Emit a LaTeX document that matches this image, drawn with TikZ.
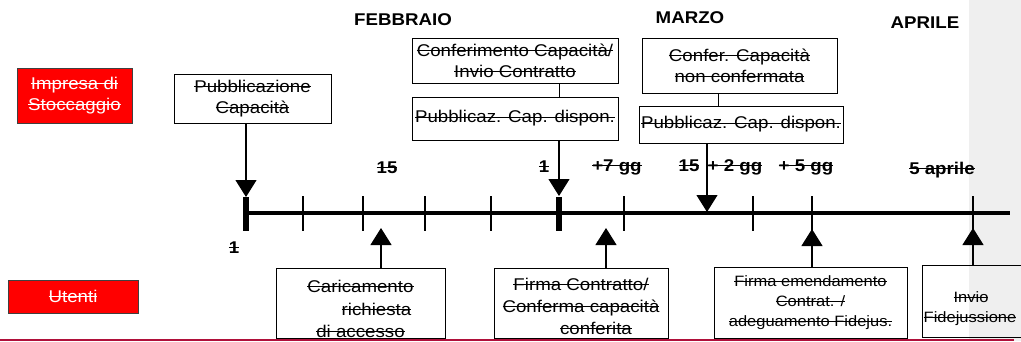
\documentclass[tikz,border=0pt]{standalone}
\usepackage{fontspec}
\setmainfont{Liberation Sans}[FakeStretch=1.1]
\usetikzlibrary{arrows.meta}
\definecolor{panelgray}{RGB}{239,239,239}
\definecolor{rulered}{RGB}{176,16,58}
\newsavebox{\strkbox}
\newlength{\textdrop}
\newcommand{\strk}[1]{\sbox{\strkbox}{#1}%
  \raisebox{-\textdrop}[\ht\strkbox][\dp\strkbox]{\rlap{\rule[0.32em]{\wd\strkbox}{0.9pt}}\usebox{\strkbox}}}

\begin{document}
\begin{tikzpicture}[x=1pt,y=-1pt,
  every node/.style={font=\fontsize{17}{21}\selectfont},
  actor/.style={rectangle,draw=black!75,line width=0.8pt,fill=red,text=white,
                align=center,inner sep=1pt},
  event/.style={rectangle,draw,line width=0.9pt,align=center,inner sep=1pt},
  small/.style={font=\fontsize{15}{20}\selectfont},
  drop/.style={execute at begin node={\setlength{\textdrop}{#1}}},
  month/.style={anchor=base,font=\fontsize{17}{20}\selectfont\bfseries},
  day/.style={anchor=base,font=\fontsize{17}{20}\selectfont\bfseries},
  arrow/.style={-{Triangle[length=17pt,width=21pt]},line width=1.2pt},
  link/.style={line width=1pt},
]
\useasboundingbox (0,0) rectangle (1021,341);
\clip (0,0) rectangle (1021,341);

% grey panel on the right
\fill[panelgray] (969,0) rectangle (1021,341);

% actors
\node[actor,minimum width=115pt,minimum height=55pt] (impresa) at (74.5,95.5)
      {\strk{Impresa di}\\\strk{Stoccaggio}};
\node[actor,minimum width=130pt,minimum height=33pt] (utenti) at (73,296.5)
      {\strk{Utenti}};

% months
\node[month] (feb) at (403,25.7) {FEBBRAIO};
\node[month] (mar) at (690,23.5) {MARZO};
\node[month] (apr) at (925,28) {APRILE};

% events of the Impresa (above the line)
\node[event,minimum width=157pt,minimum height=49pt] (pubcap) at (252.5,98.5)
      {\strk{Pubblicazione}\\\strk{Capacità}};
\node[event,minimum width=206pt,minimum height=45pt] (confA) at (515,60.5)
      {\strk{Conferimento Capacità/}\\\strk{Invio Contratto}};
\node[event,minimum width=206pt,minimum height=43pt] (dispA) at (515,118.5)
      {\strk{Pubblicaz. Cap. dispon.}};
\node[event,minimum width=195pt,minimum height=55pt] (confB) at (739.5,65.5)
      {\strk{Confer. Capacità}\\\strk{non confermata}};
\node[event,minimum width=204pt,minimum height=37pt] (dispB) at (741,124.5)
      {\strk{Pubblicaz. Cap. dispon.}};

% events of the Utenti (below the line)
\node[event,drop=6pt,font=\fontsize{17}{22.5}\selectfont,
      minimum width=169pt,minimum height=70pt] (carica) at (360.5,303)
      {\strk{Caricamento}\\\hspace*{32pt}\strk{richiesta}\\\strk{di accesso}};
\node[event,drop=3pt,font=\fontsize{17}{22}\selectfont,
      minimum width=174pt,minimum height=70pt] (firma) at (581,303)
      {\strk{Firma Contratto/}\\\strk{Conferma capacità}\\\hspace*{30pt}\strk{conferita}};
\node[event,small,minimum width=193pt,minimum height=71pt] (emenda) at (810.5,302.5)
      {\strk{Firma emendamento}\\\strk{Contrat. /}\\\strk{adeguamento Fidejus.}};
\node[event,small,drop=8pt,minimum width=110pt,minimum height=72pt] (invio) at (977,301)
      {\hspace*{-12pt}\strk{Invio}\\\hspace*{-14pt}\strk{Fidejussione}};

% time line
\coordinate (tlA) at (246,213);
\coordinate (tlB) at (1010,213);
\draw[line width=4pt] (tlA) -- (tlB);
\foreach \x in {303,363,425,491,624,753,812,973}
  \draw[line width=1.8pt] (\x,196) -- (\x,231);
\foreach \x in {246,559}
  \draw[line width=5.5pt] (\x,197) -- (\x,231);

% dates
\node[day] (d1a) at (234,253) {\strk{1}};
\node[day] (d15a) at (387,173) {\strk{15}};
\node[day] (d1b) at (544,172) {\strk{1}};
\node[day] (d7) at (617,171) {\strk{+7 gg}};
\node[day] (d15b) at (689,171) {\strk{15}};
\node[day] (d2) at (735,171) {\strk{+ 2 gg}};
\node[day] (d5) at (806,171) {\strk{+ 5 gg}};
\node[day] (apr5) at (942,174) {\strk{5 aprile}};

% arrow tips on the line
\coordinate (tipA) at (246,197);
\coordinate (tipB) at (559,196);
\coordinate (tipC) at (707,212);
\coordinate (tipD) at (381,228);
\coordinate (tipE) at (606,228);
\coordinate (tipF) at (812,229);
\coordinate (tipG) at (973,228);
\coordinate (linkB) at (718,100);

% connectors
\draw[arrow] (pubcap.south -| tipA) -- (tipA);
\draw[link] (confA.south -| tipB) -- (dispA.north -| tipB);
\draw[arrow] (dispA.south -| tipB) -- (tipB);
\draw[link] (confB.south -| linkB) -- (dispB.north -| linkB);
\draw[arrow] (dispB.south -| tipC) -- (tipC);
\draw[arrow] (carica.north -| tipD) -- (tipD);
\draw[arrow] (firma.north -| tipE) -- (tipE);
\draw[arrow] (emenda.north -| tipF) -- (tipF);
\draw[arrow] (invio.north -| tipG) -- (tipG);

% bottom rule
\draw[rulered,line width=1.5pt] (0,340) -- (1014,340);

\end{tikzpicture}
\end{document}
